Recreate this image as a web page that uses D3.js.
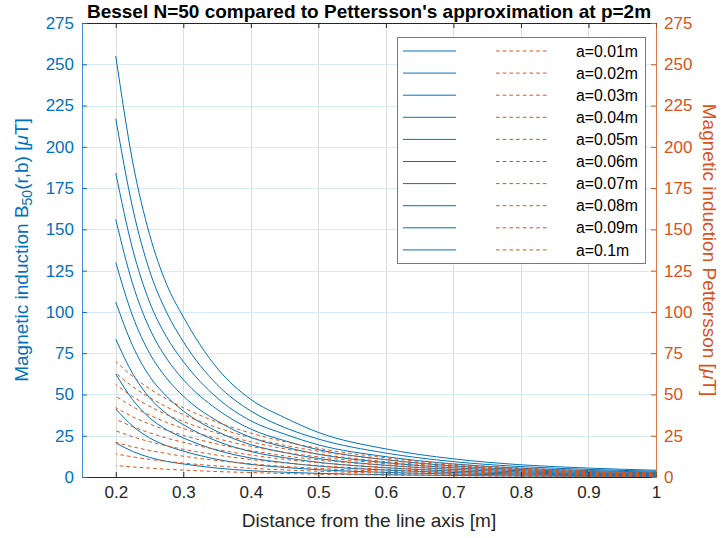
<!DOCTYPE html>
<html><head><meta charset="utf-8">
<script src="https://cdn.jsdelivr.net/npm/d3@7"></script>
<style>
body{margin:0;background:#fff}
text{font-family:"Liberation Sans",Arial,Helvetica,sans-serif}
</style>
</head><body>
<svg id="chart" width="722" height="538"></svg>
<script>
// ---------- data ----------
const distance = [0.2, 0.225, 0.25, 0.275, 0.3, 0.35, 0.4, 0.45, 0.5, 0.6, 0.7, 0.8, 0.9, 1.0];
const legendLabels = ["a=0.01m","a=0.02m","a=0.03m","a=0.04m","a=0.05m","a=0.06m","a=0.07m","a=0.08m","a=0.09m","a=0.1m"];

// Bessel N=50 (left axis, µT)
const besselA01 = [20.7, 15.5, 11.9, 9.5, 7.9, 5.4, 3.8, 2.9, 2.2, 1.4, 0.89, 0.6, 0.43, 0.33];
const besselA02 = [41.2, 30.9, 23.7, 19.0, 15.7, 10.7, 7.6, 5.8, 4.4, 2.8, 1.8, 1.2, 0.87, 0.66];
const besselA03 = [62.4, 46.8, 35.9, 28.7, 23.7, 16.2, 11.5, 8.7, 6.6, 4.2, 2.7, 1.8, 1.3, 1.0];
const besselA04 = [83.5, 62.6, 48.0, 38.4, 31.7, 21.7, 15.4, 11.7, 8.9, 5.6, 3.6, 2.4, 1.75, 1.3];
const besselA05 = [106, 79.5, 61, 49, 40, 27.6, 19.6, 14.8, 11.2, 7.1, 4.6, 3.1, 2.2, 1.7];
const besselA06 = [130, 97.5, 75, 60, 49, 34, 24, 18.2, 13.8, 8.7, 5.6, 3.8, 2.7, 2.1];
const besselA07 = [156, 117, 90, 72, 59, 41, 29, 22, 16.5, 10.5, 6.7, 4.5, 3.3, 2.5];
const besselA08 = [184, 138, 106, 85, 70, 48, 34, 26, 19.5, 12.3, 7.9, 5.3, 3.9, 2.9];
const besselA09 = [217, 163, 125, 100, 82, 56, 40, 30, 23, 14.5, 9.3, 6.3, 4.6, 3.5];
const besselA10 = [255, 191, 147, 117, 97, 66, 47, 36, 27, 17, 11, 7.4, 5.4, 4.1];

// Pettersson approximation (right axis, µT)
const pettA01 = [7, 6.1, 5.4, 4.7, 4.2, 3.3, 2.7, 2.1, 1.7, 1.2, 0.78, 0.54, 0.37, 0.26];
const pettA02 = [14, 12.2, 10.7, 9.5, 8.4, 6.7, 5.3, 4.3, 3.5, 2.3, 1.6, 1.1, 0.74, 0.52];
const pettA03 = [21, 18.3, 16.1, 14.2, 12.6, 10, 8, 6.4, 5.2, 3.5, 2.4, 1.6, 1.1, 0.78];
const pettA04 = [28, 24.4, 21.4, 18.9, 16.8, 13.3, 10.6, 8.5, 6.9, 4.6, 3.1, 2.2, 1.5, 1.0];
const pettA05 = [35, 30.5, 26.8, 23.6, 21, 16.6, 13.3, 10.7, 8.7, 5.8, 3.9, 2.7, 1.9, 1.3];
const pettA06 = [42, 36.5, 32.1, 28.4, 25.2, 20, 16, 12.8, 10.4, 7.0, 4.7, 3.2, 2.2, 1.55];
const pettA07 = [49, 42.6, 37.5, 33.1, 29.4, 23.3, 18.6, 14.9, 12.2, 8.1, 5.5, 3.8, 2.6, 1.8];
const pettA08 = [56, 48.7, 42.8, 37.8, 33.6, 26.6, 21.3, 17.1, 13.9, 9.3, 6.3, 4.3, 3.0, 2.1];
const pettA09 = [63, 54.8, 48.2, 42.5, 37.8, 29.9, 23.9, 19.2, 15.6, 10.5, 7.1, 4.9, 3.3, 2.3];
const pettA10 = [70, 61, 53.5, 47.3, 42, 33.3, 26.6, 21.4, 17.4, 11.6, 7.8, 5.4, 3.7, 2.6];

const xTickValues = [0.2, 0.3, 0.4, 0.5, 0.6, 0.7, 0.8, 0.9, 1];
const yTickValues = [0, 25, 50, 75, 100, 125, 150, 175, 200, 225, 250, 275];

const besselSeries = [besselA01,besselA02,besselA03,besselA04,besselA05,besselA06,besselA07,besselA08,besselA09,besselA10];
const pettSeries = [pettA01,pettA02,pettA03,pettA04,pettA05,pettA06,pettA07,pettA08,pettA09,pettA10];

// ---------- layout ----------
const BLUE = "#0072BD", ORANGE = "#D95319", DARK = "#262626";
const L = 82, R = 656, T = 23, B = 477;
const svg = d3.select("#chart");

const x = d3.scaleLinear().domain([0.15, 1]).range([L, R]);
const yL = d3.scaleLinear().domain([0, 275]).range([B, T]);
const yR = d3.scaleLinear().domain([0, 275]).range([B, T]);

// grid
const grid = svg.append("g");
grid.selectAll(".gx").data(xTickValues).join("line")
  .attr("x1", d => Math.round(x(d)) + 0.5).attr("x2", d => Math.round(x(d)) + 0.5)
  .attr("y1", T).attr("y2", B).attr("stroke", "#dedede").attr("stroke-width", 1);
grid.selectAll(".gy").data(yTickValues.slice(1, -1)).join("line")
  .attr("y1", d => Math.round(yL(d)) + 0.5).attr("y2", d => Math.round(yL(d)) + 0.5)
  .attr("x1", L).attr("x2", R).attr("stroke", "#d9eaf5").attr("stroke-width", 1);

// lines
const lineL = d3.line().x((d, i) => x(distance[i])).y(d => yL(d)).curve(d3.curveMonotoneX);
const lineR = d3.line().x((d, i) => x(distance[i])).y(d => yR(d)).curve(d3.curveMonotoneX);

svg.append("g").selectAll("path").data(besselSeries).join("path")
  .attr("d", lineL).attr("fill", "none").attr("stroke", BLUE).attr("stroke-width", 1);

const DASH = 3.6, GAP = 3.1, PER = DASH + GAP;
const oPaths = svg.append("g").selectAll("path").data(pettSeries).join("path")
  .attr("d", lineR).attr("fill", "none").attr("stroke", ORANGE).attr("stroke-width", 1)
  .attr("stroke-dasharray", DASH + "," + GAP);
// align dash phase in x at the right part
const xRef = x(0.9);
oPaths.each(function() {
  const p = this, total = p.getTotalLength();
  let lo = 0, hi = total;
  for (let k = 0; k < 30; k++) {
    const mid = (lo + hi) / 2;
    if (p.getPointAtLength(mid).x < xRef) lo = mid; else hi = mid;
  }
  const off = ((-lo) % PER + PER) % PER;
  d3.select(p).attr("stroke-dashoffset", off);
});

// axes
const fontTick = 17;
const ax = svg.append("g").attr("transform", `translate(0,${B})`)
  .call(d3.axisBottom(x).tickValues(xTickValues).tickSize(-5).tickSizeOuter(0).tickPadding(9).tickFormat(d => String(d)));
ax.select(".domain").attr("stroke", DARK);
ax.selectAll(".tick line").attr("stroke", DARK);
ax.selectAll("text").attr("fill", DARK).attr("font-size", fontTick).attr("font-family", null);

const axT = svg.append("g").attr("transform", `translate(0,${T})`)
  .call(d3.axisTop(x).tickValues(xTickValues).tickSize(-5).tickSizeOuter(0).tickFormat(""));
axT.select(".domain").attr("stroke", DARK);
axT.selectAll(".tick line").attr("stroke", DARK);

const ayL = svg.append("g").attr("transform", `translate(${L},0)`)
  .call(d3.axisLeft(yL).tickValues(yTickValues).tickSize(-5).tickSizeOuter(0).tickPadding(8));
ayL.select(".domain").attr("stroke", BLUE).attr("stroke-opacity", 0.75);
ayL.selectAll(".tick line").attr("stroke", BLUE);
ayL.selectAll("text").attr("fill", BLUE).attr("font-size", fontTick).attr("font-family", null);

const ayR = svg.append("g").attr("transform", `translate(${R},0)`)
  .call(d3.axisRight(yR).tickValues(yTickValues).tickSize(-5).tickSizeOuter(0).tickPadding(8));
ayR.select(".domain").attr("stroke", ORANGE).attr("stroke-opacity", 0.75);
ayR.selectAll(".tick line").attr("stroke", ORANGE);
ayR.selectAll("text").attr("fill", ORANGE).attr("font-size", fontTick).attr("font-family", null);

// title & labels
svg.append("text").attr("x", (L + R) / 2).attr("y", 18).attr("text-anchor", "middle")
  .attr("font-size", 19).attr("font-weight", "bold").attr("fill", "#000")
  .text("Bessel N=50 compared to Pettersson's approximation at p=2m");

svg.append("text").attr("x", (L + R) / 2).attr("y", 527).attr("text-anchor", "middle")
  .attr("font-size", 19).attr("fill", DARK).text("Distance from the line axis [m]");

const yl = svg.append("text").attr("transform", `translate(28,${(T + B) / 2}) rotate(-90)`)
  .attr("text-anchor", "middle").attr("font-size", 19).attr("fill", BLUE);
yl.append("tspan").text("Magnetic induction B");
yl.append("tspan").attr("font-size", 14).attr("dy", 4).text("50");
yl.append("tspan").attr("dy", -4).text("(r,b) [");
yl.append("tspan").attr("font-style", "italic").text("μ");
yl.append("tspan").text("T]");

const yr = svg.append("text").attr("transform", `translate(703,${(T + B) / 2}) rotate(90)`)
  .attr("text-anchor", "middle").attr("font-size", 19).attr("fill", ORANGE);
yr.append("tspan").text("Magnetic induction Pettersson [");
yr.append("tspan").attr("font-style", "italic").text("μ");
yr.append("tspan").text("T]");

// legend
const lg = svg.append("g");
lg.append("rect").attr("x", 397.5).attr("y", 37.5).attr("width", 248).attr("height", 226)
  .attr("fill", "#fff").attr("stroke", "#7a7a7a").attr("stroke-width", 1);
const rowY = i => 51 + i * 22.1;
lg.selectAll(".lb").data(legendLabels).join("line")
  .attr("x1", 403).attr("x2", 456).attr("y1", (d, i) => rowY(i)).attr("y2", (d, i) => rowY(i))
  .attr("stroke", BLUE).attr("stroke-width", 1);
lg.selectAll(".lo").data(legendLabels).join("line")
  .attr("x1", 496).attr("x2", 549).attr("y1", (d, i) => rowY(i)).attr("y2", (d, i) => rowY(i))
  .attr("stroke", ORANGE).attr("stroke-width", 1).attr("stroke-dasharray", DASH + "," + GAP);
lg.selectAll("text").data(legendLabels).join("text")
  .attr("x", 576).attr("y", (d, i) => rowY(i)).attr("dy", "0.36em")
  .attr("font-size", 15.8).attr("fill", "#000").text(d => d);
</script>
</body></html>
